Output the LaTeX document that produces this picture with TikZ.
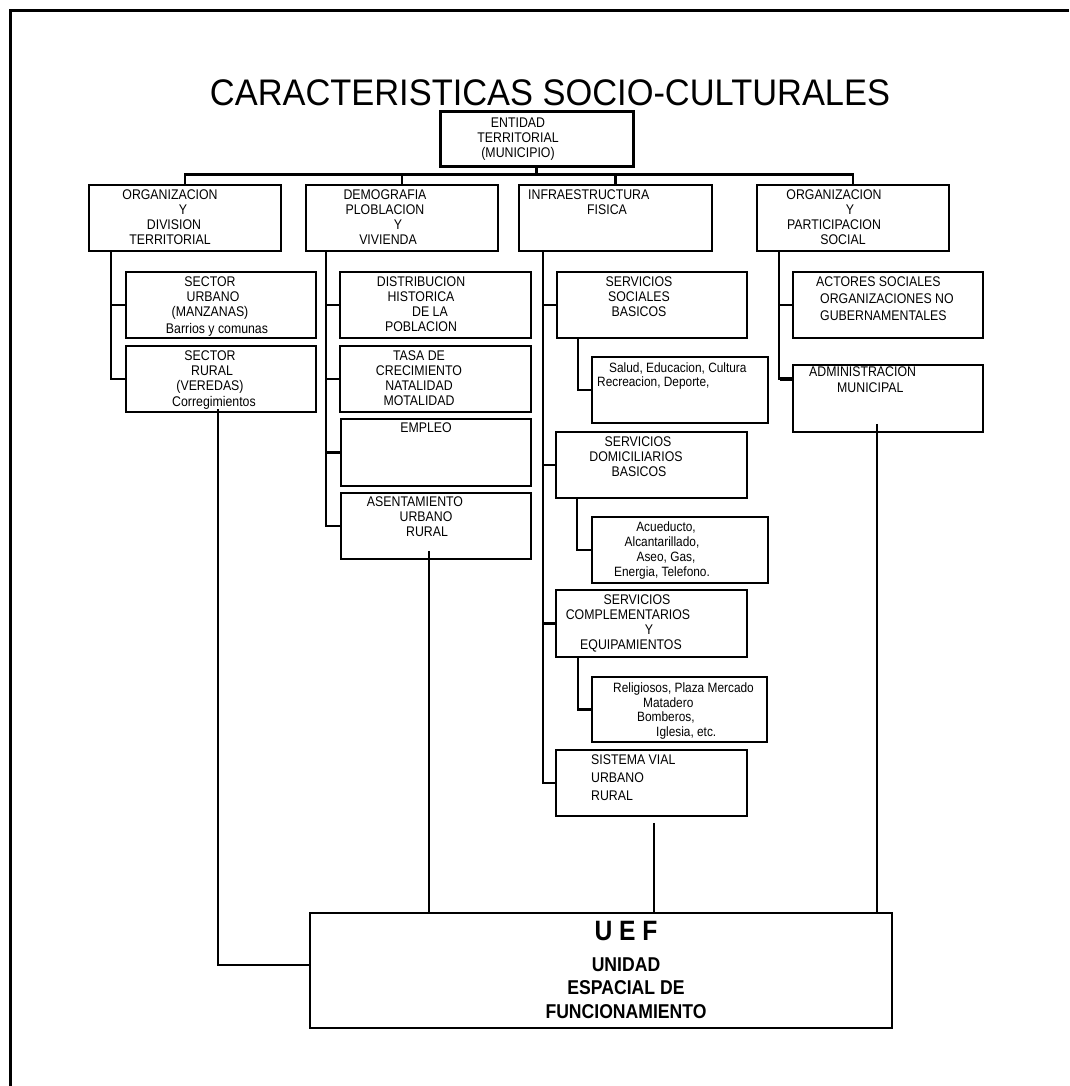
\documentclass[tikz,border=0pt]{standalone}
\usepackage{fontspec}
\usepackage{tikz}
\newfontfamily\angosta{Liberation Sans}[FakeStretch=0.88]
\newfontfamily\fuentetitulo{Liberation Sans}[FakeStretch=0.93]
\tikzset{
	caja/.style 2 args={draw, line width=1.8pt, minimum width=#1, minimum height=#2, inner sep=0pt},
	cajaprin/.style 2 args={caja={#1}{#2}, line width=2.4pt},
	txt/.style={font=\angosta\fontsize{14}{15}\selectfont, inner sep=0pt, align=center, anchor=north},
	txtl/.style={txt, align=left, anchor=north west},
	trunk/.style={line width=2.6pt},
	enlace/.style={line width=1.4pt}
}
\begin{document}
\begin{tikzpicture}[x=1pt,y=-1pt]
			\useasboundingbox (0,0) rectangle (1069,1086);
			\draw[line width=2.5pt] (10.5,1086) -- (10.5,10.5) -- (1069,10.5);
			\node[anchor=base, inner sep=0pt, font=\fuentetitulo\fontsize{37}{37}\selectfont] (titulo) at (550,106) {CARACTERISTICAS SOCIO-CULTURALES};

			% primer nivel
			\node[caja={193}{55}, line width=3pt] (top) at (536.5,139.5) {};
			\node[cajaprin={192}{66}] (org) at (185,218) {};
			\node[cajaprin={192}{66}] (demo) at (402,218) {};
			\node[cajaprin={193}{66}] (infra) at (615.5,218) {};
			\node[cajaprin={192}{66}] (orgp) at (853,218) {};

			\node[caja={190}{66}] (urbano) at (221,305) {};
			\node[caja={190}{66}] (rural) at (221,379) {};
			\node[caja={191}{66}] (distrib) at (435.5,305) {};
			\node[caja={191}{66}] (tasa) at (435.5,379) {};
			\node[caja={190}{67}] (empleo) at (436,452.5) {};
			\node[caja={190}{66}] (asent) at (436,526) {};
			\node[caja={190}{66}] (ssb) at (652,305) {};
			\node[caja={176}{66}] (salud) at (680,390) {};
			\node[caja={191}{66}] (sdb) at (651.5,465) {};
			\node[caja={176}{66}] (acued) at (680,550) {};
			\node[caja={191}{67}] (scomp) at (651.5,623.5) {};
			\node[caja={175}{65}] (relig) at (679.5,709.5) {};
			\node[caja={191}{66}] (sistema) at (651.5,783) {};
			\node[caja={190}{66}] (actores) at (888,305) {};
			\node[caja={190}{67}] (admin) at (888,398.5) {};
			\node[caja={582}{115}] (uef) at (601,970.5) {};

			% textos
			\node[txt] (top-t) at (518,118) {ENTIDAD\\TERRITORIAL\\(MUNICIPIO)};
			\node[txt] (org-t) at (170,190) {ORGANIZACION\\\hspace*{26pt}Y\\\hspace*{8pt}DIVISION\\TERRITORIAL};
			\node[txt] (demo-t) at (385,190) {DEMOGRAFIA\\PLOBLACION\\\hspace*{26pt}Y\\\hspace*{6pt}VIVIENDA};
			\node[txtl] (infra-t) at (528,190) {INFRAESTRUCTURA\\\hspace*{59pt}FISICA};
			\node[txt] (orgp-t) at (834,190) {ORGANIZACION\\\hspace*{32pt}Y\\PARTICIPACION\\\hspace*{18pt}SOCIAL};
			\node[txt] (urbano-t) at (210,277) {SECTOR\\\hspace*{6pt}URBANO\\(MANZANAS)\\[2pt]\hspace*{14pt}Barrios y comunas};
			\node[txt] (rural-t) at (210,351) {SECTOR\\\hspace*{4pt}RURAL\\(VEREDAS)\\[1pt]\hspace*{8pt}Corregimientos};
			\node[txt] (distrib-t) at (421,277) {DISTRIBUCION\\HISTORICA\\\hspace*{18pt}DE LA\\POBLACION};
			\node[txt] (tasa-t) at (419,351) {TASA DE\\CRECIMIENTO\\NATALIDAD\\MOTALIDAD};
			\node[txt] (empleo-t) at (426,423) {EMPLEO};
			\node[txt] (asent-t) at (415,497) {ASENTAMIENTO\\\hspace*{22pt}URBANO\\\hspace*{24pt}RURAL};
			\node[txt] (ssb-t) at (639,277) {SERVICIOS\\SOCIALES\\BASICOS};
			\node[txtl, font=\angosta\fontsize{13.5}{14}\selectfont] (salud-t) at (597,363) {\hspace*{12pt}Salud, Educacion, Cultura\\Recreacion, Deporte,};
			\node[txt] (sdb-t) at (636,437) {\hspace*{4pt}SERVICIOS\\DOMICILIARIOS\\\hspace*{6pt}BASICOS};
			\node[txt, font=\angosta\fontsize{13.5}{15}\selectfont] (acued-t) at (662,522) {\hspace*{8pt}Acueducto,\\Alcantarillado,\\\hspace*{8pt}Aseo, Gas,\\Energia, Telefono.};
			\node[txt] (scomp-t) at (628,595) {\hspace*{18pt}SERVICIOS\\COMPLEMENTARIOS\\\hspace*{42pt}Y\\\hspace*{6pt}EQUIPAMIENTOS};
			\node[txtl, font=\angosta\fontsize{13.5}{14.5}\selectfont] (relig-t) at (613,683) {Religiosos, Plaza Mercado\\\hspace*{30pt}Matadero\\\hspace*{24pt}Bomberos,\\\hspace*{43pt}Iglesia, etc.};
			\node[txtl, font=\angosta\fontsize{14}{18}\selectfont] (sistema-t) at (591,755) {SISTEMA VIAL\\URBANO\\RURAL};
			\node[txtl, font=\angosta\fontsize{14}{17}\selectfont] (actores-t) at (816,277) {ACTORES SOCIALES\\\hspace*{4pt}ORGANIZACIONES NO\\\hspace*{4pt}GUBERNAMENTALES};
			\node[txtl, font=\angosta\fontsize{14}{16}\selectfont] (admin-t) at (809,367) {ADMINISTRACION\\\hspace*{28pt}MUNICIPAL};
			\node[anchor=base, inner sep=0pt, font=\angosta\bfseries\fontsize{28}{28}\selectfont] (uef-a) at (626,940) {U E F};
			\node[txt, font=\angosta\bfseries\fontsize{20}{23.5}\selectfont] (uef-b) at (626,957.5) {UNIDAD\\ESPACIAL DE\\FUNCIONAMIENTO};

			% conectores
			\coordinate (bus) at ([yshift=-6]top.south);
			\draw[trunk] (top.south) -- (bus);
			\draw[trunk] (org.north) |- (bus) -| (orgp.north);
			\draw[trunk] (demo.north) -- (demo.north |- bus);
			\draw[trunk] (infra.north) -- (infra.north |- bus);

			\coordinate (c1) at ([xshift=-14]urbano.west |- org.south);
			\draw[trunk] (c1) |- (rural.west);
			\draw[trunk] (c1 |- urbano.west) -- (urbano.west);

			\coordinate (c2) at ([xshift=-13]distrib.west |- demo.south);
			\draw[trunk] (c2) |- (asent.west);
			\draw[trunk] (c2 |- distrib.west) -- (distrib.west);
			\draw[trunk] (c2 |- tasa.west) -- (tasa.west);
			\draw[trunk] (c2 |- empleo.west) -- (empleo.west);

			\coordinate (c3) at ([xshift=-13]ssb.west |- infra.south);
			\draw[trunk] (c3) |- (sistema.west);
			\draw[trunk] (c3 |- ssb.west) -- (ssb.west);
			\draw[trunk] (c3 |- sdb.west) -- (sdb.west);
			\draw[trunk] (c3 |- scomp.west) -- (scomp.west);
			\draw[trunk] ([xshift=-13]salud.west |- ssb.south) |- (salud.west);
			\draw[trunk] ([xshift=-14]acued.west |- sdb.south) |- (acued.west);
			\draw[trunk] ([xshift=-13]relig.west |- scomp.south) |- (relig.west);

			\coordinate (c4) at ([xshift=-13]actores.west |- orgp.south);
			\coordinate (a4) at ([yshift=-15]admin.north west);
			\draw[trunk] (c4) |- (a4);
			\draw[trunk] (c4 |- actores.west) -- (actores.west);
			\draw[line width=4.5pt] ([xshift=-12]a4) -- (a4);

			\draw[enlace] ([xshift=-3,yshift=4]rural.south) |- ([yshift=5.5]uef.west);
			\draw[enlace] ([xshift=-7,yshift=9]asent.south) -- ([xshift=-7]asent.south |- uef.north);
			\draw[enlace] ([xshift=2.5,yshift=-6]sistema.south) -- ([xshift=2.5]sistema.south |- uef.north);
			\draw[enlace] ([xshift=-11,yshift=9]admin.south) -- ([xshift=-11]admin.south |- uef.north);
			%\draw[enlace] (uef.east) -- ++(20,0);
\end{tikzpicture}
\end{document}
